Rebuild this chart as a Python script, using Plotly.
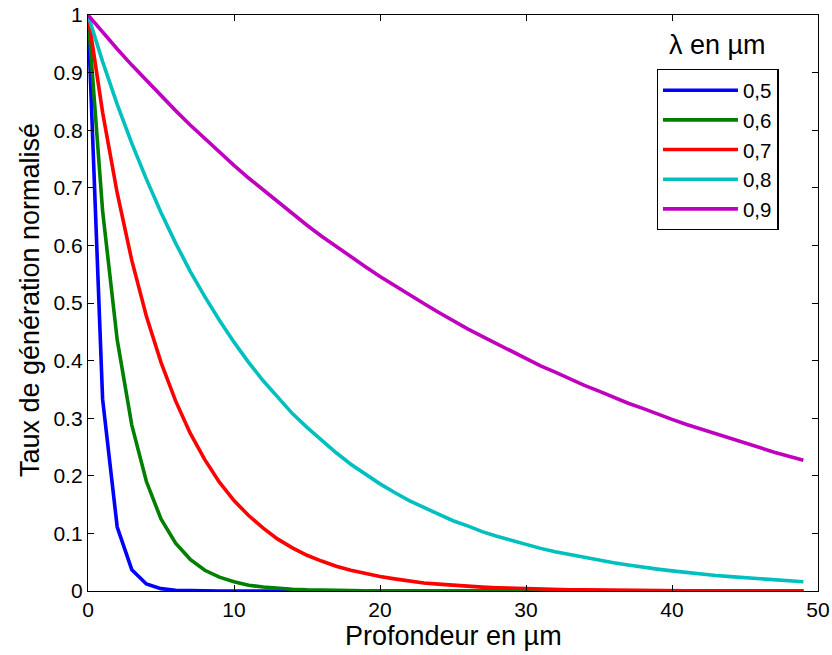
import plotly.graph_objects as go

# Depth in micrometres (sampled every 1 µm)
depth = list(range(0, 50))

wavelength_labels = ["0,5", "0,6", "0,7", "0,8", "0,9"]
colors = ["#0000FF", "#007F00", "#FF0000", "#00BFBF", "#BF00BF"]

# Normalised generation rate for each wavelength
g_05 = [1.0, 0.333, 0.111, 0.037, 0.0123, 0.0041, 0.0014, 0.0005, 0.0002, 0.0001] + [0.0] * 40
g_06 = [1.0, 0.660, 0.436, 0.288, 0.190, 0.125, 0.083, 0.055, 0.036, 0.024,
        0.016, 0.010, 0.007, 0.0045, 0.003, 0.002, 0.0013, 0.0009, 0.0006, 0.0004,
        0.0003] + [0.0] * 29
g_07 = [1.0, 0.831, 0.691, 0.574, 0.477, 0.397, 0.330, 0.274, 0.228, 0.189,
        0.157, 0.131, 0.109, 0.090, 0.075, 0.062, 0.052, 0.043, 0.036, 0.030,
        0.025, 0.021, 0.017, 0.014, 0.012, 0.0098, 0.0082, 0.0068, 0.0056, 0.0047,
        0.0039, 0.0032, 0.0027, 0.0022, 0.0019, 0.0015, 0.0013, 0.0011, 0.0009, 0.0008,
        0.0006, 0.0005, 0.0004, 0.0004, 0.0003, 0.0002, 0.0002, 0.0002, 0.0001, 0.0001]
g_08 = [1.0, 0.919, 0.845, 0.777, 0.715, 0.657, 0.604, 0.555, 0.511, 0.470,
        0.432, 0.397, 0.365, 0.336, 0.308, 0.284, 0.261, 0.240, 0.220, 0.203,
        0.186, 0.171, 0.157, 0.145, 0.133, 0.122, 0.113, 0.103, 0.095, 0.088,
        0.080, 0.074, 0.068, 0.063, 0.058, 0.053, 0.049, 0.045, 0.041, 0.038,
        0.035, 0.032, 0.029, 0.027, 0.025, 0.023, 0.021, 0.019, 0.018, 0.016]
g_09 = [1.0, 0.970, 0.941, 0.913, 0.886, 0.860, 0.834, 0.809, 0.785, 0.762,
        0.739, 0.717, 0.696, 0.675, 0.655, 0.635, 0.616, 0.598, 0.580, 0.563,
        0.546, 0.530, 0.514, 0.499, 0.484, 0.469, 0.455, 0.442, 0.429, 0.416,
        0.403, 0.391, 0.380, 0.368, 0.357, 0.347, 0.336, 0.326, 0.317, 0.307,
        0.298, 0.289, 0.281, 0.272, 0.264, 0.256, 0.249, 0.241, 0.234, 0.227]

series = [g_05, g_06, g_07, g_08, g_09]

x_ticks = [0, 10, 20, 30, 40, 50]
y_ticks = [0, 0.1, 0.2, 0.3, 0.4, 0.5, 0.6, 0.7, 0.8, 0.9, 1]
y_ticktext = ["0", "0.1", "0.2", "0.3", "0.4", "0.5", "0.6", "0.7", "0.8", "0.9", "1"]

FONT = "Liberation Sans, Arial, sans-serif"

fig = go.Figure()
for name, vals, col in zip(wavelength_labels, series, colors):
    fig.add_trace(go.Scatter(x=depth, y=vals, mode="lines", name=name,
                             line=dict(color=col, width=3.6)))

axis_common = dict(
    showline=True, linecolor="black", linewidth=1.3, mirror="ticks",
    ticks="inside", ticklen=6, tickcolor="black", tickwidth=1,
    showgrid=False, zeroline=False, automargin=False,
    tickfont=dict(family=FONT, size=21, color="black"),
)

fig.update_layout(
    width=832, height=655,
    margin=dict(l=88, r=14, t=15, b=64, autoexpand=False),
    paper_bgcolor="white", plot_bgcolor="white",
    font=dict(family=FONT, color="black"),
    showlegend=True,
    legend=dict(
        x=0.779, y=0.906, xanchor="left", yanchor="top",
        bordercolor="black", borderwidth=1.3, bgcolor="white",
        font=dict(family=FONT, size=20.5, color="black"),
        itemwidth=75, tracegroupgap=0,
    ),
    xaxis=dict(range=[0, 50], tickvals=x_ticks, **axis_common),
    yaxis=dict(range=[0, 1], tickvals=y_ticks, ticktext=y_ticktext, **axis_common),
    annotations=[
        dict(text="λ en µm", x=0.863, y=0.948, xref="paper", yref="paper",
             xanchor="center", yanchor="middle", showarrow=False,
             font=dict(family=FONT, size=27, color="black")),
        dict(text="Profondeur en µm", x=0.5, y=-0.078, xref="paper", yref="paper",
             xanchor="center", yanchor="middle", showarrow=False,
             font=dict(family=FONT, size=27, color="black")),
        dict(text="Taux de génération normalisé", x=-0.0795, y=0.505, xref="paper", yref="paper",
             xanchor="center", yanchor="middle", showarrow=False, textangle=-90,
             font=dict(family=FONT, size=27, color="black")),
    ],
)

fig.write_html("out.html")
